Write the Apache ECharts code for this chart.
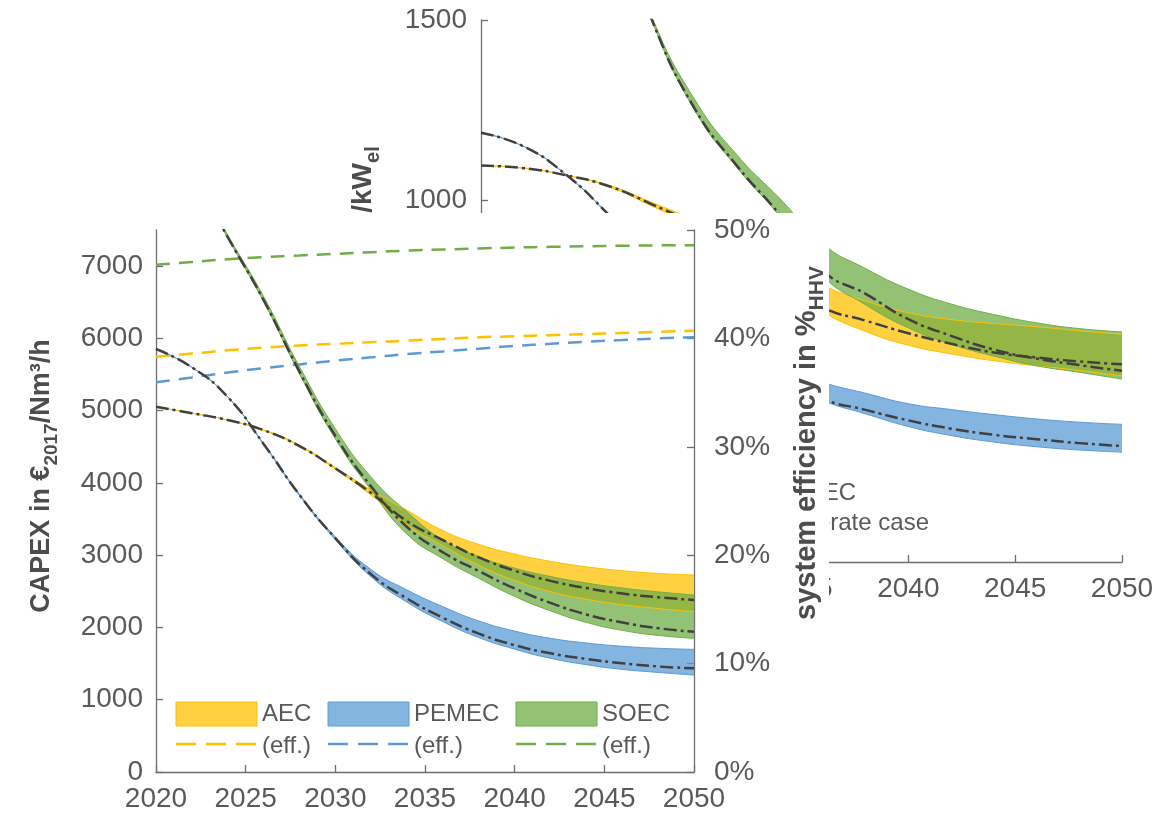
<!DOCTYPE html>
<html><head><meta charset="utf-8">
<script src="https://cdn.jsdelivr.net/npm/echarts@6/dist/echarts.min.js"></script>
<style>
html,body{margin:0;padding:0;background:#fff;}
#bg{position:absolute;left:0;top:0;width:1168px;height:816px;}
#fg{position:absolute;left:0;top:213px;width:829px;height:603px;background:#fff;}
</style></head><body>
<div id="bg"></div><div id="fg"></div>
<script>
// ---------- front chart data (CAPEX in EUR2017 per Nm3/h, efficiency in %HHV) ----------
const years = [2020,2022,2024,2026,2028,2030,2032,2034,2036,2038,2040,2042,2044,2046,2048,2050];
const aecLo  = [5055,4965,4870,4725,4505,4190,3830,3420,3130,2860,2650,2495,2390,2315,2262,2218];
const aecHi  = [5055,4965,4870,4735,4520,4215,3900,3620,3340,3150,3015,2915,2840,2785,2748,2726];
const aecMid = [5055,4965,4870,4730,4510,4200,3860,3470,3210,2970,2785,2645,2545,2470,2418,2380];
const pemLo  = [5853,5600,5190,4535,3825,3215,2700,2350,2080,1860,1700,1573,1485,1420,1378,1342];
const pemHi  = [5853,5600,5190,4545,3845,3255,2800,2519,2288,2090,1950,1850,1785,1740,1712,1697];
const pemMid = [5853,5600,5190,4540,3835,3235,2735,2400,2135,1915,1755,1642,1565,1505,1460,1435];
const soeLo  = [null,8300,7390,6510,5510,4610,3900,3290,2950,2680,2430,2230,2070,1960,1890,1850];
const soeHi  = [null,8320,7430,6580,5610,4750,4080,3600,3210,2980,2820,2705,2615,2545,2492,2449];
const soeMid = [null,8300,7400,6530,5540,4650,3950,3390,3040,2780,2540,2340,2180,2070,1990,1941];
const effAec = [38.3,38.6,38.9,39.15,39.35,39.5,39.65,39.8,39.95,40.1,40.2,40.3,40.4,40.5,40.6,40.7];
const effPem = [35.95,36.4,36.85,37.25,37.6,37.95,38.25,38.55,38.8,39.05,39.3,39.5,39.7,39.85,40.0,40.1];
const effSoe = [46.8,47.05,47.3,47.5,47.65,47.8,47.95,48.1,48.2,48.3,48.38,48.45,48.5,48.55,48.58,48.6];
const capexTicks = [0,1000,2000,3000,4000,5000,6000,7000];

// ---------- background chart data (CAPEX in EUR2017 per kW_el) ----------
const bgAecLo  = [1097,1090,1070,1038,985,928,855,772,692,638,600,576,557,543,530,515];
const bgAecHi  = [1097,1090,1070,1042,995,945,885,820,765,722,690,671,660,651,640,630];
const bgAecMid = [1097,1090,1070,1040,990,935,865,780,704,668,633,604,580,566,555,547];
const bgPemLo  = [1188,1150,1071,958,830,705,590,505,447,410,375,350,332,319,310,304];
const bgPemHi  = [1188,1150,1071,962,850,730,620,540,497,467,438,422,408,396,387,381];
const bgPemMid = [1188,1150,1071,960,840,715,600,510,451,421,392,369,352,340,329,321];
const bgSoeLo  = [null,null,null,1825,1497,1250,1090,955,792,712,648,603,570,543,525,506];
const bgSoeHi  = [null,null,null,1835,1508,1280,1125,1005,880,812,755,714,685,662,646,637];
const bgSoeMid = [null,null,null,1830,1500,1255,1095,960,806,742,672,626,588,563,545,529];

const C_AEC = '#FFC000', C_PEM = '#5B9BD5', C_SOE = '#70AD47';
const FONT = '"Liberation Sans", Arial, Helvetica, sans-serif';
const TXT = '#595959', AX = '#6e6e6e', TITLE = '#4d4d4d';
const SM = 0.5;

function band(name, lo, hi, color){
  const d = hi.map((v,i)=> (v == null || lo[i] == null) ? null : v - lo[i]);
  return [
    {name:name+' lo', type:'line', xAxisIndex:1, stack:name, data:lo, smooth:SM, symbol:'none',
     lineStyle:{color:color, width:1}, silent:true},
    {name:name, type:'line', xAxisIndex:1, stack:name, data:d, smooth:SM, symbol:'none',
     lineStyle:{color:color, width:1}, areaStyle:{color:color, opacity:0.75}, silent:true}
  ];
}
function mid(name, ys){
  return {name:name, type:'line', xAxisIndex:1, data:ys, smooth:SM, symbol:'none', silent:true,
    lineStyle:{color:'#404040', width:2.5, type:[13,4,3,4]}};
}
function eff(name, ys, color){
  return {name:name, type:'line', xAxisIndex:1, yAxisIndex:1, data:ys, smooth:SM, symbol:'none', silent:true,
    lineStyle:{color:color, width:2.5, type:[14,9]}};
}
function vtitle(id, x, y, text, size, subSize){
  return {type:'text', id:id, x:x, y:y, rotation:Math.PI/2, silent:true,
    style:{text:text, align:'center', verticalAlign:'middle', fill:TITLE,
      rich:{m:{fontSize:size, fontWeight:'bold', fontFamily:FONT, fill:TITLE},
            s:{fontSize:subSize, fontWeight:'bold', fontFamily:FONT, fill:TITLE, padding:[20,0,0,0]}}}};
}
function xAxes(){
  return [
    {type:'value', min:2020, max:2050, interval:5,
     axisLine:{show:true, lineStyle:{color:AX, width:1.3}},
     axisTick:{show:true, inside:true, length:7, lineStyle:{color:AX, width:1.3}},
     axisLabel:{color:TXT, fontSize:28, fontFamily:FONT, margin:13, formatter:v=>String(v)},
     splitLine:{show:false}},
    {type:'category', data:years.map(String), boundaryGap:false, show:false}
  ];
}
const yLabelFmt = v => String(v);

// ---------- background chart ----------
const bg = echarts.init(document.getElementById('bg'), null, {renderer:'canvas'});
bg.setOption({
  animation:false, backgroundColor:'#fff',
  grid:{left:481, top:20, width:641, height:542, containLabel:false},
  xAxis: xAxes(),
  yAxis: {type:'value', min:0, max:1500, interval:500,
    axisLine:{show:true, lineStyle:{color:AX, width:1.3}},
    axisTick:{show:true, inside:true, length:7, lineStyle:{color:AX, width:1.3}},
    axisLabel:{color:TXT, fontSize:28, fontFamily:FONT, margin:14, formatter:yLabelFmt},
    splitLine:{show:false}},
  series: [
    ...band('AEC', bgAecLo, bgAecHi, C_AEC),
    ...band('PEMEC', bgPemLo, bgPemHi, C_PEM),
    ...band('SOEC', bgSoeLo, bgSoeHi, C_SOE),
    mid('AEC mid', bgAecMid),
    mid('PEMEC mid', bgPemMid),
    mid('SOEC mid', bgSoeMid)
  ],
  graphic: [
    vtitle('bgt', 363, 278, '{m|CAPEX in €}{s|2017}{m|/kW}{s|el}', 28, 20),
    {type:'text', id:'l1', x:856, y:493, silent:true, style:{text:'SOEC', align:'right', verticalAlign:'middle',
      fill:TXT, fontSize:24, fontFamily:FONT}},
    {type:'text', id:'l2', x:929, y:523, silent:true, style:{text:'moderate case', align:'right', verticalAlign:'middle',
      fill:TXT, fontSize:24, fontFamily:FONT}}
  ]
});

// ---------- front chart ----------
const fg = echarts.init(document.getElementById('fg'), null, {renderer:'canvas'});
const OY = 213;
function legendItem(x0, label, color, rgba){
  return [
    {type:'rect', shape:{x:x0, y:702-OY, width:81, height:24}, silent:true,
      style:{fill:rgba, stroke:color, lineWidth:1}},
    {type:'text', x:x0+86, y:714-OY, silent:true, style:{text:label, align:'left', verticalAlign:'middle',
      fill:TXT, fontSize:24, fontFamily:FONT}},
    {type:'line', shape:{x1:x0, y1:744-OY, x2:x0+81, y2:744-OY}, silent:true,
      style:{stroke:color, lineWidth:2.5, lineDash:[20,10]}},
    {type:'text', x:x0+86, y:746-OY, silent:true, style:{text:'(eff.)', align:'left', verticalAlign:'middle',
      fill:TXT, fontSize:24, fontFamily:FONT}}
  ];
}
fg.setOption({
  animation:false, backgroundColor:'#fff',
  grid:{left:156, right:135, top:17, bottom:44, containLabel:false},
  xAxis: xAxes(),
  yAxis: [
    {type:'value', min:0, max:7500, position:'left',
     axisLine:{show:true, lineStyle:{color:AX, width:1.3}},
     axisTick:{show:true, inside:true, length:7, lineStyle:{color:AX, width:1.3}, customValues:capexTicks},
     axisLabel:{color:TXT, fontSize:28, fontFamily:FONT, margin:13, customValues:capexTicks, formatter:yLabelFmt},
     splitLine:{show:false}},
    {type:'value', min:0, max:50, interval:10, position:'right',
     axisLine:{show:true, lineStyle:{color:AX, width:1.3}},
     axisTick:{show:true, inside:true, length:7, lineStyle:{color:AX, width:1.3}},
     axisLabel:{color:TXT, fontSize:28, fontFamily:FONT, margin:20, formatter:v=>v+'%'},
     splitLine:{show:false}}
  ],
  series: [
    eff('AEC eff', effAec, C_AEC),
    eff('PEMEC eff', effPem, C_PEM),
    eff('SOEC eff', effSoe, C_SOE),
    ...band('AEC', aecLo, aecHi, C_AEC),
    ...band('PEMEC', pemLo, pemHi, C_PEM),
    ...band('SOEC', soeLo, soeHi, C_SOE),
    mid('AEC mid', aecMid),
    mid('PEMEC mid', pemMid),
    mid('SOEC mid', soeMid)
  ],
  graphic: [
    vtitle('ft1', 42, 476-OY, '{m|CAPEX in €}{s|2017}{m|/Nm³/h}', 27, 19),
    vtitle('ft2', 807, 443-OY, '{m|system efficiency in %}{s|HHV}', 29, 21),
    ...legendItem(176, 'AEC', C_AEC, 'rgba(255,192,0,0.75)'),
    ...legendItem(328, 'PEMEC', C_PEM, 'rgba(91,155,213,0.75)'),
    ...legendItem(516, 'SOEC', C_SOE, 'rgba(112,173,71,0.75)')
  ]
});
</script></body></html>
